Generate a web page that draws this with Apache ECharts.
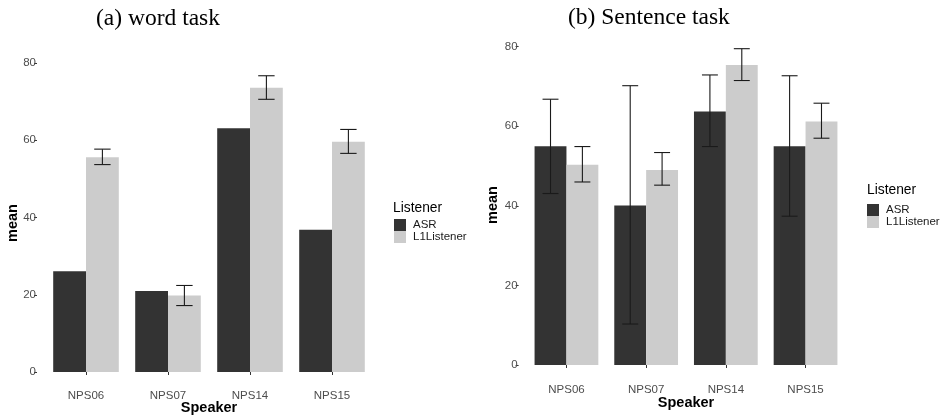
<!DOCTYPE html>
<html>
<head>
<meta charset="utf-8">
<script src="https://cdn.jsdelivr.net/npm/echarts@6/dist/echarts.min.js"></script>
<style>html,body{margin:0;padding:0;background:#fff}#c{width:946px;height:420px}</style>
</head>
<body>
<div id="c"></div>
<script>
const categories = ['NPS06', 'NPS07', 'NPS14', 'NPS15'];
const yTicks = [0, 20, 40, 60, 80];
// (a) word task
const wordASR = [26.1, 21.0, 63.1, 36.8];
const wordL1 = [55.6, 19.8, 73.6, 59.6];
const wordL1Low = [53.7, 17.2, 70.6, 56.6];
const wordL1High = [57.7, 22.4, 76.7, 62.8];
// (b) Sentence task
const sentASR = [55.0, 40.1, 63.7, 55.0];
const sentASRLow = [43.1, 10.3, 54.9, 37.4];
const sentASRHigh = [66.8, 70.2, 72.9, 72.7];
const sentL1 = [50.3, 49.0, 75.4, 61.2];
const sentL1Low = [46.0, 45.2, 71.5, 57.0];
const sentL1High = [54.9, 53.4, 79.5, 65.8];

const DARK = '#333333', LIGHT = '#cccccc';
const SANS = '"Liberation Sans", Arial, sans-serif';
const SERIF = '"Liberation Serif", "Times New Roman", serif';

function errData(low, high, side) {
  return low.map((l, i) => [i, l, high[i], side]);
}
function renderErr(params, api) {
  const i = api.value(0), lo = api.value(1), hi = api.value(2), side = api.value(3);
  const band = api.size([1, 0])[0];
  const pLo = api.coord([i, lo]);
  const pHi = api.coord([i, hi]);
  const x = pLo[0] + side * band * 0.2;
  const h = band * 0.1;
  const st = {stroke: '#1a1a1a', lineWidth: 1.1};
  return {type: 'group', children: [
    {type: 'line', shape: {x1: x, y1: pLo[1], x2: x, y2: pHi[1]}, style: st},
    {type: 'line', shape: {x1: x - h, y1: pLo[1], x2: x + h, y2: pLo[1]}, style: st},
    {type: 'line', shape: {x1: x - h, y1: pHi[1], x2: x + h, y2: pHi[1]}, style: st}
  ]};
}

function xAx(gi, off) {
  return {
    type: 'category', gridIndex: gi, data: categories, offset: off,
    axisLine: {show: false},
    axisTick: {show: true, length: 3, alignWithLabel: true, lineStyle: {color: '#333'}},
    axisLabel: {color: '#4d4d4d', fontSize: 11.5, fontFamily: SANS, margin: 1}
  };
}
function yAx(gi) {
  return {
    type: 'value', gridIndex: gi, min: 0, max: yTicks[yTicks.length - 1], interval: 20, offset: 8,
    axisLine: {show: false},
    axisTick: {show: true, length: 3, lineStyle: {color: '#333'}},
    axisLabel: {color: '#4d4d4d', fontSize: 11.5, fontFamily: SANS, margin: 1},
    splitLine: {show: false}
  };
}
function legendBlock(left, top) {
  return {
    data: ['ASR', 'L1Listener'], orient: 'vertical', left: left, top: top, padding: 0,
    itemWidth: 12, itemHeight: 12, itemGap: 0, icon: 'rect', selectedMode: false,
    textStyle: {fontSize: 11.5, fontFamily: SANS, color: '#1a1a1a', padding: [0, 0, 0, 2]}
  };
}

const chart = echarts.init(document.getElementById('c'));
chart.setOption({
  backgroundColor: '#fff',
  animation: false,
  grid: [
    {left: 45, width: 328, top: 63, height: 309},
    {left: 526.6, width: 318.8, top: 46.7, height: 318.3}
  ],
  xAxis: [xAx(0, 17), xAx(1, 18)],
  yAxis: [yAx(0), yAx(1)],
  legend: [legendBlock(394, 219), legendBlock(867, 204)],
  series: [
    {name: 'ASR', type: 'bar', xAxisIndex: 0, yAxisIndex: 0, data: wordASR, barGap: 0, barCategoryGap: '20%', itemStyle: {color: DARK}},
    {name: 'L1Listener', type: 'bar', xAxisIndex: 0, yAxisIndex: 0, data: wordL1, barGap: 0, barCategoryGap: '20%', itemStyle: {color: LIGHT}},
    {name: 'ASR', type: 'bar', xAxisIndex: 1, yAxisIndex: 1, data: sentASR, barGap: 0, barCategoryGap: '20%', itemStyle: {color: DARK}},
    {name: 'L1Listener', type: 'bar', xAxisIndex: 1, yAxisIndex: 1, data: sentL1, barGap: 0, barCategoryGap: '20%', itemStyle: {color: LIGHT}},
    {type: 'custom', xAxisIndex: 0, yAxisIndex: 0, data: errData(wordL1Low, wordL1High, 1), renderItem: renderErr, encode: {x: 0, y: [1, 2]}, z: 5},
    {type: 'custom', xAxisIndex: 1, yAxisIndex: 1, data: errData(sentASRLow, sentASRHigh, -1), renderItem: renderErr, encode: {x: 0, y: [1, 2]}, z: 5},
    {type: 'custom', xAxisIndex: 1, yAxisIndex: 1, data: errData(sentL1Low, sentL1High, 1), renderItem: renderErr, encode: {x: 0, y: [1, 2]}, z: 5}
  ],
  graphic: [
    {type: 'text', left: 96, top: 7, style: {text: '(a) word task', font: '23.5px ' + SERIF, fill: '#000'}},
    {type: 'text', left: 568, top: 6, style: {text: '(b) Sentence task', font: '23.5px ' + SERIF, fill: '#000'}},
    {type: 'text', x: 12.5, y: 223, rotation: Math.PI / 2, style: {text: 'mean', font: 'bold 14.5px ' + SANS, fill: '#000', align: 'center', verticalAlign: 'middle'}},
    {type: 'text', x: 492.5, y: 205, rotation: Math.PI / 2, style: {text: 'mean', font: 'bold 14.5px ' + SANS, fill: '#000', align: 'center', verticalAlign: 'middle'}},
    {type: 'text', x: 209, y: 408, style: {text: 'Speaker', font: 'bold 14.5px ' + SANS, fill: '#000', align: 'center', verticalAlign: 'middle'}},
    {type: 'text', x: 686, y: 403, style: {text: 'Speaker', font: 'bold 14.5px ' + SANS, fill: '#000', align: 'center', verticalAlign: 'middle'}},
    {type: 'text', x: 393, y: 208, style: {text: 'Listener', font: '13.8px ' + SANS, fill: '#000', align: 'left', verticalAlign: 'middle'}},
    {type: 'text', x: 867, y: 190, style: {text: 'Listener', font: '13.8px ' + SANS, fill: '#000', align: 'left', verticalAlign: 'middle'}}
  ]
});
</script>
</body>
</html>
